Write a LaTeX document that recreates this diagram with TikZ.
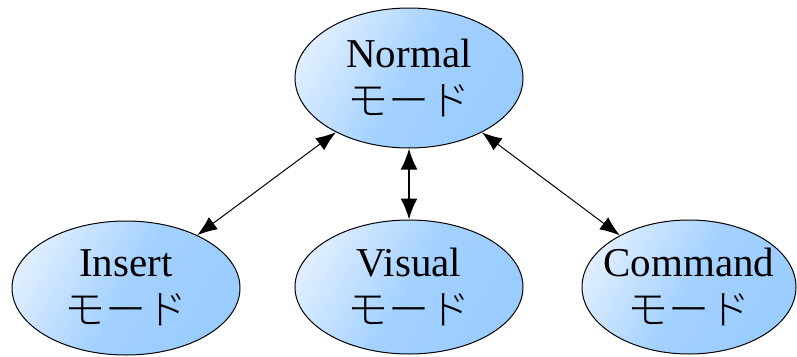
\documentclass[tikz,border=0pt]{standalone}
\usepackage{fontspec}
\setmainfont{Liberation Serif}
\newfontfamily\jpfont{Noto Sans CJK JP}[UprightFont={* Light}]
\usetikzlibrary{arrows.meta,shapes.geometric}
\definecolor{modeblue}{RGB}{153,204,255}
\definecolor{modelight}{RGB}{222,237,255}

\begin{document}
\begin{tikzpicture}[x=1pt, y=-1pt,
      every node/.style={font=\fontsize{41}{48}\selectfont},
      mode/.style={ellipse, draw, line width=1pt, inner sep=0pt, minimum width=228pt, minimum height=134pt,
        top color=modelight, bottom color=modeblue, middle color=modeblue!85!modelight, shading angle=60},
      modetext/.style={align=center, inner sep=0pt},
      arrow/.style={{Latex[length=20pt,width=15pt]}-{Latex[length=20pt,width=15pt]}, line width=1pt},
      thickarrow/.style={{Latex[length=21pt,width=17pt]}-{Latex[length=21pt,width=17pt]}, line width=2.2pt}
  ]
    \useasboundingbox (0,0) rectangle (797,356);
    \node[mode, minimum height=140pt, label={[modetext]center:{Normal\\{\jpfont モード}}}] (normal) at (409,78) {};
    \node[mode, label={[modetext]center:{Insert\\{\jpfont モード}}}] (insert) at (126,288) {};
    \node[mode, label={[modetext]center:{Visual\\{\jpfont モード}}}] (visual) at (409,287) {};
    \node[mode, minimum width=214pt, label={[modetext]center:{Command\\{\jpfont モード}}}] (command) at (689,287) {};
    \draw[arrow] (insert) -- (normal);
    \draw[thickarrow] (visual) -- (normal);
    \draw[arrow] (command) -- (normal);
  \end{tikzpicture}
\end{document}
